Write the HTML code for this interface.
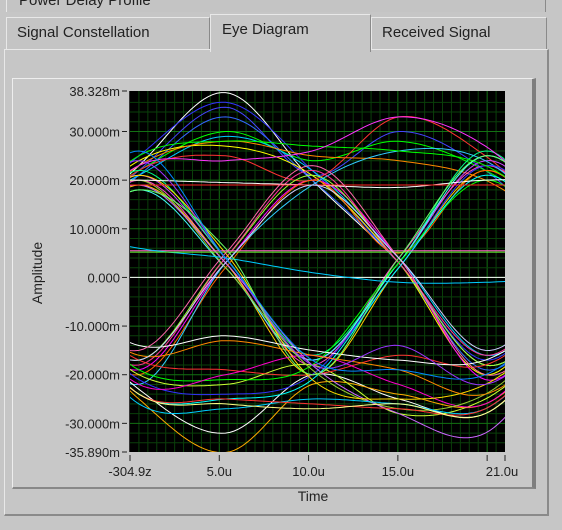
<!DOCTYPE html>
<html><head><meta charset="utf-8">
<style>
body{margin:0;width:562px;height:530px;background:#c6c6c6;overflow:hidden;font-family:"Liberation Sans",sans-serif;position:relative}
.tab{position:absolute;font-size:15px;color:#222;background:#c4c4c4;border:1px solid #e8e8e8;border-right-color:#8a8a8a;border-bottom:none;box-sizing:border-box;padding:3px 0 0 10px}
</style></head><body>
<div class="tab" style="left:6px;top:-12px;width:540px;height:24px;padding-left:12px">Power Delay Profile</div>
<div class="tab" style="left:6px;top:17px;width:204px;height:33px;padding-top:6px">Signal Constellation</div>
<div class="tab" style="left:371px;top:17px;width:176px;height:33px;padding-top:6px">Received Signal</div>
<div style="position:absolute;left:4px;top:49px;width:545px;height:467px;background:#c6c6c6;border:1px solid #e8e8e8;border-right:2px solid #8a8a8a;border-bottom:2px solid #8a8a8a;box-sizing:border-box"></div>
<div class="tab" style="left:210px;top:14px;width:161px;height:38px;background:#c6c6c6;border-bottom:none;padding-top:6px;padding-left:11px">Eye Diagram</div>
<div style="position:absolute;left:12px;top:78px;width:524px;height:411px;background:#c8c8c8;border-top:1px solid #eee;border-left:1px solid #eee;border-right:4px solid #7e7e7e;border-bottom:2px solid #888;box-sizing:border-box"></div>
<svg id="chart" width="562" height="530" style="position:absolute;left:0;top:0">
<g id="grid"></g><g id="traces"></g><g id="axes"></g>
<text transform="translate(42,273) rotate(-90)" text-anchor="middle" font-size="14" fill="#222">Amplitude</text>
<text x="313" y="501" text-anchor="middle" font-size="14" fill="#222">Time</text>
</svg>
<script>
const sampleTimes=[-4.35,0.5,5.35,10.2,15.05,19.9,24.75];
const traceColors=["#fff","#33f","#44f","#36f","#0f0","#0cf","#ff0","#f80","#f33","#c4f","#f4c","#0f8","#fc0","#4ff","#f0f","#9f3","#f60","#3cf","#f39","#fff","#fa0","#cf3","#33f","#f33","#0f0","#f0c","#0ff","#9c3","#c6f","#fd0","#f6c","#fff","#0cf","#6f3","#fff","#f22","#0f0","#f3f","#f80","#fff","#0cf","#f33","#ff8","#93f","#6f6","#f6a","#ccf","#08f"];
const traceValues=[
[5,23,38,20,3,-18,-5],[8,25,36,22,3,-17,0],[6,22,35,21,30,22,5],[5,21,33,20,3,-19,-3],
[10,22,30,24,28,22,10],[10,21,29,22,4,-16,-2],[8,24,27,21,3,-20,0],[6,23,28,25,24,20,8],
[5,22,25,20,33,25,8],[4,21,4,-17,3,24,8],[2,20,3,-18,4,23,6],[3,22,4,-16,3,26,5],
[2,19,3,-20,2,22,5],[1,18,2,-17,3,25,8],[-3,-19,3,20,4,-21,-5],[-2,-17,4,21,3,-18,-5],
[-4,-20,2,20,5,22,6],[-3,-22,3,19,26,24,8],[-2,-18,4,22,3,-16,0],[-5,-23,-32,-20,-25,-28,-10],
[-5,-25,-36,-22,-24,-26,-10],[-4,-20,-22,-18,-28,-25,-10],[-3,-21,-24,-20,2,23,8],[-3,-17,-19,-20,-16,-18,-5],
[-2,-19,-21,-18,3,20,5],[-3,-22,-20,-16,-22,-26,-8],[-4,-24,-25,-21,2,21,5],[5,20,2,-19,-27,-24,-8],
[6,19,3,-18,-28,-32,-10],[4,21,5,-21,-25,-22,-8],[5.5,5.5,5.5,5.5,5.5,5.5,5.5],[0,0,0,0,0,0,0],
[10,6,4,1,-1,-1,0],[5.2,5.2,5.2,5.2,5.2,5.2,5.2],[20,20,19.5,19,18.5,20,20],[19,19,19,19,19,19,19],
[8,25,28,27,26,23,10],[7,23,24,26,33,27,10],[-4,-16,-13,-16,-19,-24,-10],[-3,-14,-12,-15,-17,-17,-5],
[-5,-26,-27,-25,-26,-27,-10],[-4,-24,-25,-26,-27,-27,-10],[-3,-24,-26,-27,-26,-28,-10],[6,24,4,-18,-14,-22,-8],
[4,18,6,-20,4,25,8],[-2,-15,5,23,4,-20,-5],[-3,-17,3,19,4,-15,0],[5,26,4,-17,-19,-20,-5]];
const xTickValues=[0,5,10,15,20,21];
const xTickLabels=["-304.9z","5.0u","10.0u","15.0u","","21.0u"];
const yTickValues=[38.328,30,20,10,0,-10,-20,-30,-35.89];
const yTickLabels=["38.328m","30.000m","20.000m","10.000m","0.000","-10.000m","-20.000m","-30.000m","-35.890m"];
const X0=130,X1=505,Y0=91,Y1=452,xmin=0,xmax=21,ymin=-35.89,ymax=38.328;
const xs=t=>X0+(t-xmin)/(xmax-xmin)*(X1-X0);
const ys=v=>Y0+(ymax-v)/(ymax-ymin)*(Y1-Y0);
const NS="http://www.w3.org/2000/svg";
function mk(tag,attrs,parent){const e=document.createElementNS(NS,tag);for(const k in attrs)e.setAttribute(k,attrs[k]);parent.appendChild(e);return e;}
const grid=document.getElementById('grid'),tr=document.getElementById('traces'),ax=document.getElementById('axes');
const bg=mk('rect',{x:X0,y:Y0,width:X1-X0,height:Y1-Y0,fill:'#000'},grid);


for(let t=0.5;t<21;t+=0.5){const l=mk('line',{x1:xs(t),x2:xs(t),y1:Y0,y2:Y1,stroke:(t%5===0)?'#137013':'#0a3f0a','stroke-width':1},grid);

}
for(let v=-34;v<38;v+=2){const l=mk('line',{x1:X0,x2:X1,y1:ys(v),y2:ys(v),stroke:(v%10===0)?'#137013':'#0a3f0a','stroke-width':1},grid);

}
mk('clipPath',{id:'cp'},tr);
mk('rect',{x:X0,y:Y0,width:X1-X0,height:Y1-Y0},tr.querySelector('clipPath'));
function cr(p0,p1,p2,p3,u){return 0.5*((2*p1)+(-p0+p2)*u+(2*p0-5*p1+4*p2-p3)*u*u+(-p0+3*p1-3*p2+p3)*u*u*u);}
traceValues.forEach((vals,i)=>{
 const n=vals.length;
 const ext=[2*vals[0]-vals[1]].concat(vals,[2*vals[n-1]-vals[n-2]]);
 let pts=[];
 for(let s=0;s<n-1;s++){
  const p0=ext[s],p1=ext[s+1],p2=ext[s+2],p3=ext[s+3];
  for(let k=0;k<20;k++){const u=k/20;const t=sampleTimes[s]+u*(sampleTimes[s+1]-sampleTimes[s]);pts.push(xs(t).toFixed(1)+','+ys(cr(p0,p1,p2,p3,u)).toFixed(1));}
 }
 pts.push(xs(sampleTimes[n-1]).toFixed(1)+','+ys(vals[n-1]).toFixed(1));
 const pl=mk('polyline',{points:pts.join(' '),fill:'none',stroke:traceColors[i%traceColors.length],'stroke-width':1,'clip-path':'url(#cp)'},tr);
 
 
});
mk('line',{x1:X0-0.5,x2:X0-0.5,y1:Y0,y2:Y1,stroke:'#333'},ax);
xTickValues.forEach((v,i)=>{
 const l=mk('line',{x1:xs(v),x2:xs(v),y1:Y1+3,y2:Y1+9,stroke:'#222'},ax);
 
 
 if(xTickLabels[i]){const t=mk('text',{x:xs(v)+(i===5?-3:0),y:Y1+24,'text-anchor':'middle','font-size':13,fill:'#222'},ax);t.textContent=xTickLabels[i];
 
 }
});
yTickValues.forEach((v,i)=>{
 const l=mk('line',{x1:X0-8,x2:X0-3,y1:ys(v),y2:ys(v),stroke:'#222'},ax);
 
 
 const t=mk('text',{x:X0-10,y:ys(v)+5,'text-anchor':'end','font-size':13,fill:'#222'},ax);t.textContent=yTickLabels[i];
 
 
});
</script>
</body></html>
